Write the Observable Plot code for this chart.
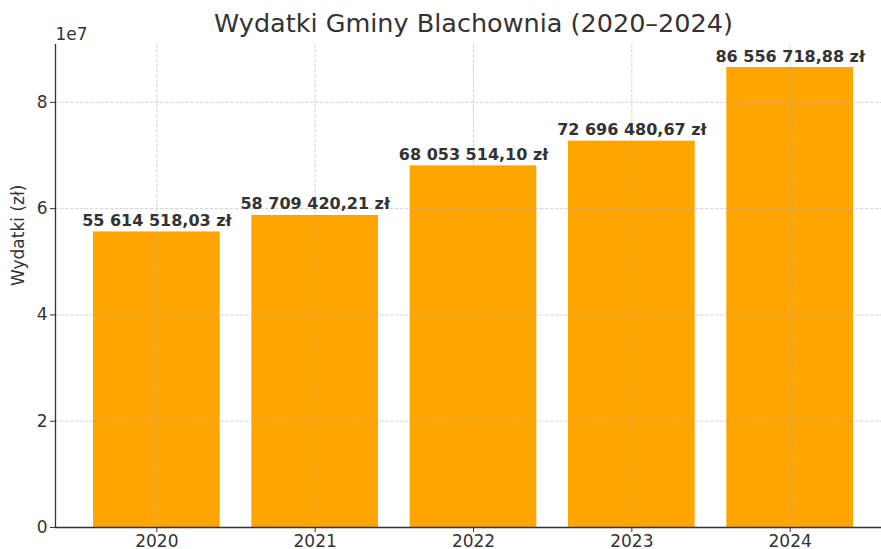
<!DOCTYPE html>
<html>
<head>
<meta charset="utf-8">
<script src="https://cdn.jsdelivr.net/npm/d3@7"></script>
<script src="https://cdn.jsdelivr.net/npm/@observablehq/plot@0.6"></script>
<style>
  html, body { margin: 0; padding: 0; background: #fff; overflow: hidden; }
  #chart svg { overflow: visible; }
</style>
</head>
<body>
<div id="chart"></div>
<script>
const years = [2020, 2021, 2022, 2023, 2024];
const values = [55614518.03, 58709420.21, 68053514.10, 72696480.67, 86556718.88];
const valueLabels = ["55 614 518,03 zł", "58 709 420,21 zł", "68 053 514,10 zł", "72 696 480,67 zł", "86 556 718,88 zł"];
const yTicks = [0, 2e7, 4e7, 6e7, 8e7];
const titleText = "Wydatki Gminy Blachownia (2020–2024)";
const yLabelText = "Wydatki (zł)";
const offsetText = "1e7";

const data = years.map((year, i) => ({year, value: values[i], label: valueLabels[i]}));
const barHalf = 0.4;
const xMin = years[0] - 0.64, xMax = years[years.length - 1] + 0.64;
const yMax = d3.max(values) * 1.05;

const textColor = "#333333";
const gridStyle = {stroke: "#b0b0b0", strokeOpacity: 0.55, strokeDasharray: "3.5,1.5", strokeWidth: 1};

const chart = Plot.plot({
  width: 881,
  height: 549,
  marginLeft: 55,
  marginRight: -10,
  marginTop: 44,
  marginBottom: 22,
  style: {fontFamily: "DejaVu Sans", background: "#fff", color: textColor},
  x: {domain: [xMin, xMax]},
  y: {domain: [0, yMax]},
  marks: [
    Plot.rectY(data, {
      x1: d => d.year - barHalf,
      x2: d => d.year + barHalf,
      y: "value",
      fill: "#FFA500"
    }),
    Plot.gridX(years, {...gridStyle}),
    Plot.gridY(yTicks, {...gridStyle}),
    Plot.ruleY([0], {stroke: textColor, strokeWidth: 1.3}),
    Plot.ruleX([xMin], {stroke: textColor, strokeWidth: 1.3}),
    Plot.axisX(years, {
      tickSize: 5, tickPadding: 2, fontSize: 17, stroke: textColor, fill: textColor,
      tickFormat: d => String(d), label: null
    }),
    Plot.axisY(yTicks, {
      tickSize: 5, tickPadding: 3, fontSize: 17, stroke: textColor, fill: textColor,
      tickFormat: d => String(d / 1e7), label: null
    }),
    Plot.text(data, {
      x: "year", y: "value", text: "label",
      dy: -6, lineAnchor: "bottom", fontWeight: "bold", fontSize: 16, fill: textColor
    }),
    Plot.text([titleText], {
      frameAnchor: "top", dy: -21, fontSize: 25.5, fill: textColor, lineAnchor: "middle"
    }),
    Plot.text([offsetText], {
      frameAnchor: "top-left", dy: -5, textAnchor: "start", lineAnchor: "bottom", fontSize: 17, fill: textColor
    }),
    Plot.text([yLabelText], {
      frameAnchor: "left", dx: -37, rotate: -90, fontSize: 17, fill: textColor
    })
  ]
});
document.getElementById("chart").append(chart);
</script>
</body>
</html>
